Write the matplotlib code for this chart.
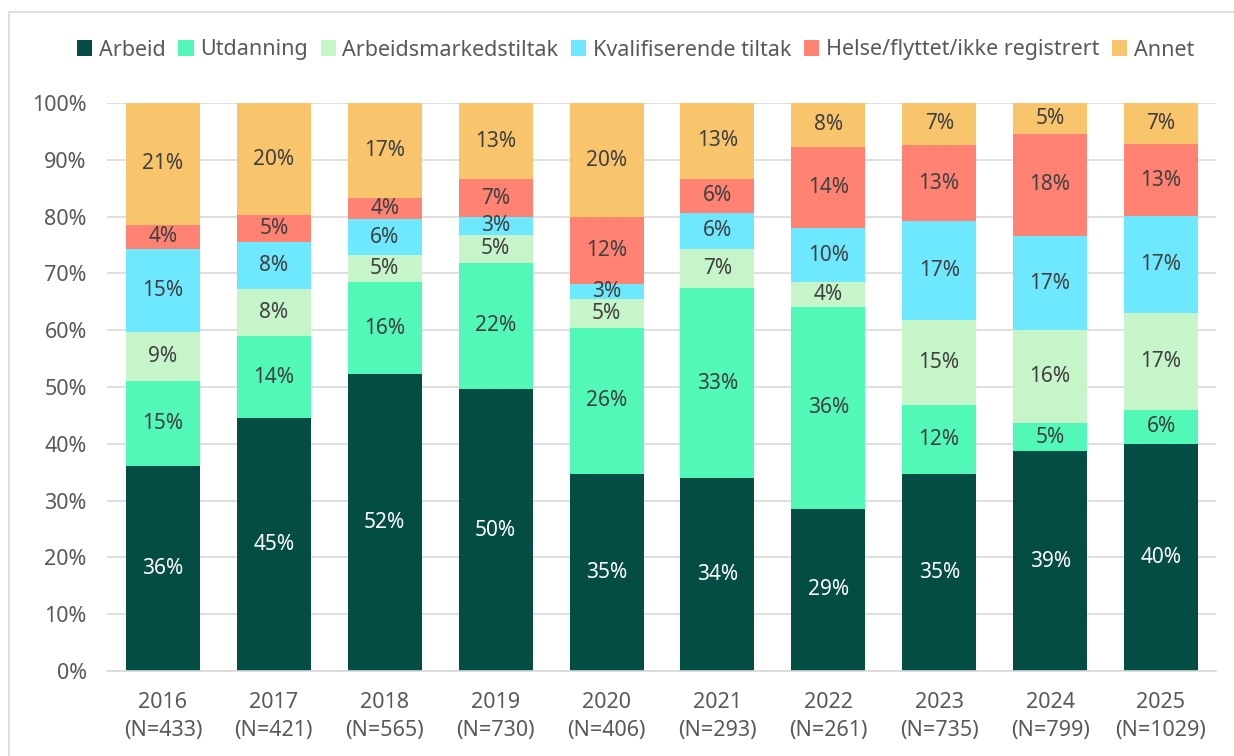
import matplotlib
matplotlib.use("Agg")
import matplotlib.pyplot as plt
from matplotlib.patches import Rectangle
import numpy as np

plt.rcParams['font.family'] = ['Noto Sans', 'DejaVu Sans']

years = ['2016', '2017', '2018', '2019', '2020', '2021', '2022', '2023', '2024', '2025']
n_values = [433, 421, 565, 730, 406, 293, 261, 735, 799, 1029]

categories = ['Arbeid', 'Utdanning', 'Arbeidsmarkedstiltak', 'Kvalifiserende tiltak',
              'Helse/flyttet/ikke registrert', 'Annet']

arbeid = [36.1, 44.6, 52.2, 49.6, 34.7, 34.0, 28.6, 34.6, 38.7, 40.0]
utdanning = [15.0, 14.3, 16.2, 22.3, 25.7, 33.4, 35.5, 12.3, 4.9, 6.0]
arbeidsmarked = [8.6, 8.4, 4.9, 4.9, 5.1, 6.9, 4.3, 14.9, 16.4, 17.1]
kvalifiserende = [14.6, 8.3, 6.2, 3.1, 2.6, 6.4, 9.6, 17.4, 16.6, 17.0]
helse = [4.3, 4.6, 3.8, 6.7, 11.8, 6.0, 14.3, 13.4, 18.0, 12.6]
annet = [21.4, 19.8, 16.7, 13.4, 20.1, 13.3, 7.7, 7.4, 5.4, 7.3]

series = [arbeid, utdanning, arbeidsmarked, kvalifiserende, helse, annet]
colors = ['#034D45', '#52F8B8', '#C6F5C9', '#6DE8FF', '#FF8272', '#F8C46C']
label_colors = ['white', '#404040', '#404040', '#404040', '#404040', '#404040']

fig = plt.figure(figsize=(12.34, 7.56), dpi=100)
ax = fig.add_axes([0.0871, 0.1124, 0.8987, 0.7514])

# ramme rundt diagrammet
fig.patches.append(Rectangle((9 / 1234, -0.1), 2, 1.1 - 12 / 756, transform=fig.transFigure,
                             fill=False, edgecolor='#D9D9D9', linewidth=1.2, zorder=0))

x = np.arange(len(years))
bottom = np.zeros(len(years))
for name, vals, col, lcol in zip(categories, series, colors, label_colors):
    vals = np.array(vals)
    ax.bar(x, vals, width=0.667, bottom=bottom, color=col, label=name, zorder=2)
    for xi, b, v in zip(x, bottom, vals):
        ax.text(xi, b + v / 2, f'{int(round(v))}%', ha='center', va='center',
                fontsize=15, color=lcol, zorder=3)
    bottom += vals

ax.set_xlim(-0.5, len(years) - 0.5)
ax.set_ylim(0, 100)
ax.set_yticks(np.arange(0, 101, 10))
ax.set_yticklabels([f'{v}%' for v in range(0, 101, 10)])
ax.set_xticks(x)
ax.set_xticklabels([f'{y}\n(N={n})' for y, n in zip(years, n_values)], linespacing=1.45)
ax.tick_params(axis='both', length=0, labelsize=15.5, labelcolor='#595959')
ax.tick_params(axis='x', pad=15)
ax.tick_params(axis='y', pad=15)
ax.grid(axis='y', color='#D9D9D9', linewidth=1.2, zorder=0)
ax.set_axisbelow(True)
for s in ['top', 'right', 'left']:
    ax.spines[s].set_visible(False)
ax.spines['bottom'].set_color('#D9D9D9')
ax.spines['bottom'].set_linewidth(1.2)

fig.legend(loc='center', bbox_to_anchor=(0.515, 1 - 50 / 756), ncol=6, frameon=False,
           fontsize=15.5, handlelength=0.7, handleheight=0.7, handletextpad=0.3,
           columnspacing=0.6, labelcolor='#595959')

fig.savefig('out.png', dpi=100)
